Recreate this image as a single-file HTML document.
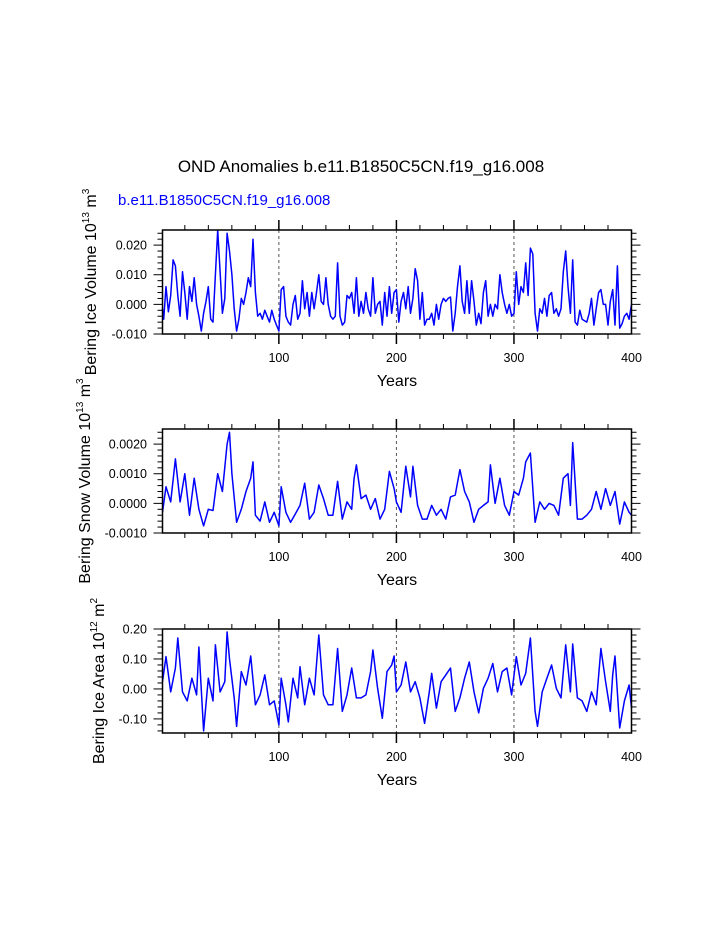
<!DOCTYPE html>
<html><head><meta charset="utf-8"><style>
html,body{margin:0;padding:0;background:#fff;}
svg{display:block;font-family:"Liberation Sans",sans-serif;}
</style></head><body>
<svg id="chart" width="723" height="935" viewBox="0 0 723 935">
<text x="361" y="172" text-anchor="middle" font-size="17" fill="#000">OND Anomalies b.e11.B1850C5CN.f19_g16.008</text>
<text x="118" y="205" font-size="15" fill="#0000ff">b.e11.B1850C5CN.f19_g16.008</text>
</svg>
<script>
// ---------- data ----------
const iceVolYears = [1,2,4,6,8,10,12,14,16,18,20,22,24,26,28,30,32,34,36,38,40,42,44,46,48,50,52,54,56,58,60,62,64,66,68,70,72,74,76,78,80,82,84,86,88,90,92,94,96,98,100,102,104,106,108,110,112,114,116,118,120,122,124,126,128,130,132,134,136,138,140,142,144,146,148,150,152,154,156,158,160,162,164,166,168,170,172,174,176,178,180,182,184,186,188,190,192,194,196,198,200,202,204,206,208,210,212,214,216,218,220,222,224,226,228,230,232,234,236,238,240,242,244,246,248,250,252,254,256,258,260,262,264,266,268,270,272,274,276,278,280,282,284,286,288,290,292,294,296,298,300,302,304,306,308,310,312,314,316,318,320,322,324,326,328,330,332,334,336,338,340,342,344,346,348,350,352,354,356,358,360,362,364,366,368,370,372,374,376,378,380,382,384,386,388,390,392,394,396,398,400];
const iceVolValues = [-1.5,-5,6,-2.5,3,15,13,3,-4,11,4,-5,6,1,9,0,-4,-9,-3,1,6,-5,-6,10,25,11,-3,2,24,18,10,-1.5,-9,-5,2,0,4,9,6,22,4,-4,-3,-5,-2,-4,-6,-2,-5,-7,-9,5,6,-4,-6,-7,0,3,-5,-3,8,-1.5,4,-4,4,-1.5,4,10,1,0,9,0,-4,-5,-4,14,-4,-7,-6,3,2,4,-3,9,-4,1,-3,4,-1.5,-4,9,-3,0,1,-7,4,-4,6,-3,4,5,-6,1,4,-1.5,6,-3,2,12,8,-5,4,-7,-5,-5,-3,-7,0,-5,0,2,1,2,2.5,-9,-3,6,13,1,-3,8,-3,8,1,-7,-3,-6.5,4,8,-4,0,-4,0,-1.5,10,4,0,-3,0,-4,-3,11,0,6,4,14,3,19,17,-3,-9,-1.5,-3,2,-4,3,4,-3,-1.5,-4,-1.5,11,18,6,-3,15,-6,-7,-2,-5,-5.5,-6,-3,2,-7,-1.5,4,5,0,0,-7,1,5,-7,13,-8,-6.5,-4,-3,-5,0];
const snowVolYears = [1,4,8,12,16,20,24,28,32,36,40,44,48,52,56,58,60,64,68,72,76,78,80,84,88,92,96,100,102,106,110,114,118,122,126,130,134,138,142,146,150,154,158,162,164,166,170,174,178,182,186,190,194,198,200,204,208,212,214,218,222,226,230,234,238,242,246,250,254,258,262,266,270,274,278,280,284,288,292,296,300,304,308,310,314,318,322,326,330,334,338,342,346,348,350,354,358,362,366,370,374,378,382,386,390,394,398,400];
const snowVolValues = [-3,5.6,0.5,15,0.5,10,-4,8.5,-2,-7.6,-2,-2.4,10,4,20,24,10,-6.4,-2,4,8.5,14,-4,-6,0.5,-6.4,-3,-7.6,5.6,-3,-6.4,-3.6,-0.7,6.8,-5.3,-3,6.2,1.6,-4,-4,7.4,-5.3,0.5,-2,8.5,13,1.6,2.8,-2,1.6,-5.3,-2,10.8,5,0.5,-3,12.5,2.2,12.5,-0.7,-5.3,-5.3,-0.7,-4,-2,-5.3,2.2,2.8,11.4,4,0.5,-6.4,-2,-0.7,0.5,13,0,8.5,-0.7,-4,4,2.8,8.5,14,17,-6.4,0.5,-2,0,-0.7,-4,8.5,10,-0.7,20.5,-5.3,-5.3,-4,-2,4,-2,5,-0.7,4,-7,0.5,-3,-4];
const iceAreaYears = [1,4,8,12,14,18,22,26,30,32,36,40,44,46,50,54,56,58,62,64,68,72,76,80,84,88,92,96,100,102,106,108,112,116,118,122,126,130,134,138,142,146,150,154,158,162,166,170,174,178,180,184,188,192,196,198,200,204,208,212,216,220,224,228,230,234,238,242,246,250,254,258,262,266,270,274,278,282,286,290,294,298,302,306,310,314,318,320,324,328,332,336,340,344,348,350,354,358,362,366,370,374,378,382,384,386,390,394,398,400];
const iceAreaValues = [2.4,10.8,-1,7,17,-1,-4,3.6,-2,14,-14,3.6,-4,14.7,-1,2.4,19,10,-3,-12.5,5.8,1.3,11,-5.3,-2,4.7,-5.3,-4,-12,3.6,-5.3,-11,3.6,-3,7.4,-5.3,3.6,-2,18,-2,-5.3,-5.3,13.5,-7.5,-2,7,-3,-3,-2,5.8,13,0.2,-9.8,5.8,8,11,-1,1.3,9,-1,2.4,-3,-11.5,-1,5.2,-6.4,2.4,4.7,7,-7.5,-3,3.6,9,-1,-8,0.2,3.6,8.5,-1,5.8,7,-2,10.8,1.3,5.2,17,-7.5,-12.5,-1,3.6,8,0.2,-3,14.7,-1,15,-3,-4,-7.5,-1,-5.3,13.5,2.4,-7.5,4.7,11,-13,-4,1.3,-6.4];
const xTickLabels = ["100","200","300","400"];
const iceVolTicks = ["-0.010","0.000","0.010","0.020"];
const snowVolTicks = ["-0.0010","0.0000","0.0010","0.0020"];
const iceAreaTicks = ["-0.10","0.00","0.10","0.20"];

// ---------- drawing ----------
const svg = document.getElementById('chart');
const NS = 'http://www.w3.org/2000/svg';
function mk(tag, attrs, parent){
  const e = document.createElementNS(NS, tag);
  for (const k in attrs) e.setAttribute(k, attrs[k]);
  (parent||svg).appendChild(e);
  return e;
}
const L = 162.5, R = 631.5, X0 = 1, X1 = 400;
function xs(yr){ return L + (yr - X0) * (R - L) / (X1 - X0); }

const panels = [
  {name:'ice-volume', top:230, bottom:334, vmin:-0.010, vmax:0.0251, unit:0.001, years:iceVolYears, vals:iceVolValues,
   ticks:iceVolTicks, minor:0.002, major:0.010, labelX:90, lbl:['Bering Ice Volume 10','13',' m','3']},
  {name:'snow-volume', top:429, bottom:533, vmin:-0.0010, vmax:0.00251, unit:0.0001, years:snowVolYears, vals:snowVolValues,
   ticks:snowVolTicks, minor:0.0002, major:0.0010, labelX:84, lbl:['Bering Snow Volume 10','13',' m','3']},
  {name:'ice-area', top:629, bottom:733, vmin:-0.147, vmax:0.20, unit:0.01, years:iceAreaYears, vals:iceAreaValues,
   ticks:iceAreaTicks, minor:0.02, major:0.10, labelX:98, lbl:['Bering Ice Area 10','12',' m','2']}
];

panels.forEach(p => {
  const g = mk('g', {});
  
  
  const ys = v => p.bottom - (v - p.vmin) * (p.bottom - p.top) / (p.vmax - p.vmin);
  // grid lines
  [100,200,300].forEach(yr => {
    const gl = mk('line', {x1:xs(yr), x2:xs(yr), y1:p.top, y2:p.bottom, stroke:'#555', 'stroke-width':1, 'stroke-dasharray':'3,3'}, g);
    
    
  });
  // x ticks
  for (let yr = 20; yr < 400; yr += 20) {
    const maj = yr % 100 === 0;
    const len = maj ? 10 : 5;
    mk('line', {x1:xs(yr), x2:xs(yr), y1:p.bottom, y2:p.bottom+len, stroke:'#000', 'stroke-width':maj?1.5:1}, g);
    mk('line', {x1:xs(yr), x2:xs(yr), y1:p.top, y2:p.top-len, stroke:'#000', 'stroke-width':maj?1.5:1}, g);
  }
  xTickLabels.forEach(t => {
    const tx = mk('text', {x:xs(+t), y:p.bottom+28, 'text-anchor':'middle', 'font-size':12.5, fill:'#000'}, g);
    tx.textContent = t;
    
    
  });
  const xt = mk('text', {x:397, y:p.bottom+52, 'text-anchor':'middle', 'font-size':16, fill:'#000'}, g);
  xt.textContent = 'Years';
  
  
  // y ticks
  const n0 = Math.ceil(p.vmin / p.minor - 1e-6), n1 = Math.floor(p.vmax / p.minor + 1e-6);
  for (let n = n0; n <= n1; n++) {
    const v = n * p.minor;
    const maj = Math.abs(v / p.major - Math.round(v / p.major)) < 1e-6;
    const len = maj ? 9 : 5;
    const y = ys(v);
    mk('line', {x1:L, x2:L-len, y1:y, y2:y, stroke:'#000', 'stroke-width':1}, g);
    mk('line', {x1:R, x2:R+len, y1:y, y2:y, stroke:'#000', 'stroke-width':1}, g);
  }
  p.ticks.forEach(t => {
    const ty = mk('text', {x:147, y:ys(+t)+4.5, 'text-anchor':'end', 'font-size':12.5, fill:'#000'}, g);
    ty.textContent = t;
    
    
  });
  // y title
  const cy = (p.top + p.bottom) / 2;
  const yt = mk('text', {x:0, y:0, 'text-anchor':'middle', 'font-size':16, fill:'#000',
     transform:'translate(' + (p.labelX+6) + ',' + cy + ') rotate(-90)'}, g);
  
  
  p.lbl.forEach((s, i) => {
    const sp = mk('tspan', {}, yt);
    if (i % 2 === 1) { sp.setAttribute('font-size', '10'); sp.setAttribute('dy', '-7'); }
    else if (i > 0) { sp.setAttribute('dy', '7'); }
    sp.textContent = s;
  });
  // series
  let d = '';
  p.years.forEach((yr, i) => {
    d += (i ? 'L' : 'M') + xs(yr).toFixed(1) + ',' + ys(p.vals[i] * p.unit).toFixed(1);
  });
  const path = mk('path', {d:d, fill:'none', stroke:'#0000ff', 'stroke-width':1.5, 'stroke-linejoin':'round'}, g);
  
  
  // frame
  const fr = mk('rect', {x:L, y:p.top, width:R-L, height:p.bottom-p.top, fill:'none', stroke:'#000', 'stroke-width':1.5}, g);
  
  
});
</script>
</body></html>
